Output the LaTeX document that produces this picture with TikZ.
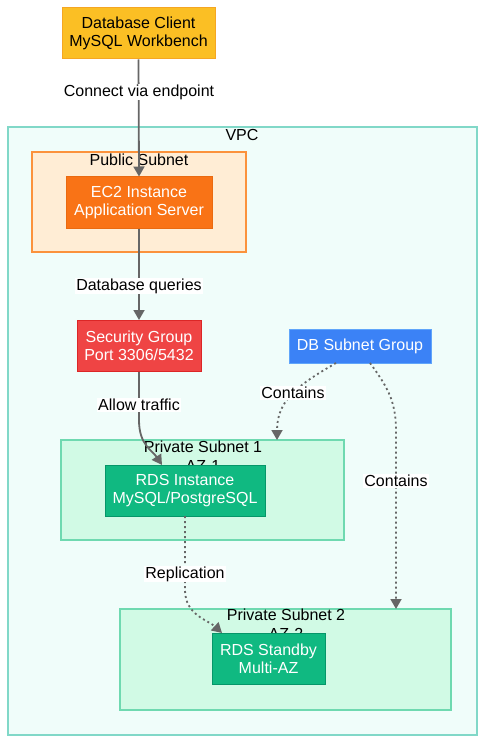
\documentclass[tikz,border=0pt]{standalone}
\usepackage{fontspec}
\setmainfont{Liberation Sans}
\usetikzlibrary{arrows.meta,calc}
\definecolor{edgegray}{HTML}{666666}
\definecolor{clientfill}{HTML}{FBBF24}
\definecolor{clientdraw}{HTML}{F5A623}
\definecolor{vpcfill}{HTML}{F0FDFA}
\definecolor{vpcdraw}{HTML}{81D8C8}
\definecolor{pubfill}{HTML}{FFEDD5}
\definecolor{pubdraw}{HTML}{FB923C}
\definecolor{ecfill}{HTML}{F97316}
\definecolor{ecdraw}{HTML}{EA6A10}
\definecolor{sgfill}{HTML}{EF4444}
\definecolor{sgdraw}{HTML}{DC2626}
\definecolor{dbfill}{HTML}{3B82F6}
\definecolor{dbdraw}{HTML}{60A5FA}
\definecolor{privfill}{HTML}{D1FAE5}
\definecolor{privdraw}{HTML}{6FD9B0}
\definecolor{rdsfill}{HTML}{10B981}
\definecolor{rdsdraw}{HTML}{059669}
\tikzset{
  every node/.style={font=\fontsize{16}{18.5}\selectfont, inner sep=0pt, align=center},
  box/.style={draw, line width=1pt, minimum width=#1, minimum height=51},
  region/.style={line width=1.2pt},
  elabel/.style={fill=white, inner sep=1pt, text=black},
  solidedge/.style={draw=edgegray, line width=1.8pt, -{Triangle[length=10pt,width=11pt]}},
  dotedge/.style={draw=edgegray, line width=1.8pt, dash pattern=on 2pt off 3pt, -{Triangle[length=10pt,width=11pt]}},
}
\begin{document}
\begin{tikzpicture}[x=1pt,y=-1pt]
\useasboundingbox (0,0) rectangle (486,743);
% regions
\draw[region, fill=vpcfill, draw=vpcdraw] (8,127) rectangle (477,735);
\node (vpclbl) at (242,135) {VPC};
\draw[region, fill=pubfill, draw=pubdraw] (32,152) rectangle (246,252);
\node (publbl) at (139,160) {Public Subnet};
\draw[region, fill=privfill, draw=privdraw] (61,440) rectangle (344,540);
\node[anchor=north] (p1lbl) at (203,441) {Private Subnet 1\\AZ-1};
\draw[region, fill=privfill, draw=privdraw] (120,609) rectangle (451,710);
\node[anchor=north] (p2lbl) at (286,609) {Private Subnet 2\\AZ-2};
% nodes
\node[box=153, fill=clientfill, draw=clientdraw, text=black] (client) at (138.5,33.5) {Database Client\\MySQL Workbench};
\node[box=146, fill=ecfill, draw=ecdraw, text=white] (ec2) at (139,202.5) {EC2 Instance\\Application Server};
\node[box=124, fill=sgfill, draw=sgdraw, text=white] (sg) at (139,346) {Security Group\\Port 3306/5432};
\node[box=142, minimum height=34, fill=dbfill, draw=dbdraw, text=white] (dbsg) at (360,346) {DB Subnet Group};
\node[box=160, fill=rdsfill, draw=rdsdraw, text=white] (rds1) at (185,490.5) {RDS Instance\\MySQL/PostgreSQL};
\node[box=113, fill=rdsfill, draw=rdsdraw, text=white] (rds2) at (268.5,659) {RDS Standby\\Multi-AZ};
% helper coordinates
\coordinate (sgbend) at (139,420);
\coordinate (rds1in) at (162,465);
\coordinate (p1in) at (277,440);
\coordinate (p2bend) at (396,430);
\coordinate (p2in) at (396,609);
\coordinate (repstart) at (185,516);
\coordinate (repbend) at (185,590);
\coordinate (rds2in) at (222,633);
\coordinate (dbsgA) at (336,363);
\coordinate (dbsgB) at (370,363);
% edges
\draw[solidedge] (client.south) -- (ec2.north);
\draw[solidedge] (ec2.south) -- (sg.north);
\draw[solidedge] (sg.south) -- (sgbend) .. controls (139,445) and (152,450) .. (rds1in);
\draw[dotedge] (dbsgA) .. controls (298,385) and (277,400) .. (p1in);
\draw[dotedge] (dbsgB) .. controls (386,385) and (396,400) .. (p2bend) -- (p2in);
\draw[dotedge] (repstart) -- (repbend) .. controls (185,615) and (208,620) .. (rds2in);
% edge labels
\node[elabel] (l1) at (139,92) {Connect via endpoint};
\node[elabel] (l2) at (139,286) {Database queries};
\node[elabel] (l3) at (139,405) {Allow traffic};
\node[elabel] (l4) at (293,393) {Contains};
\node[elabel] (l5) at (396,481) {Contains};
\node[elabel] (l6) at (185,574) {Replication};
\end{tikzpicture}
\end{document}
